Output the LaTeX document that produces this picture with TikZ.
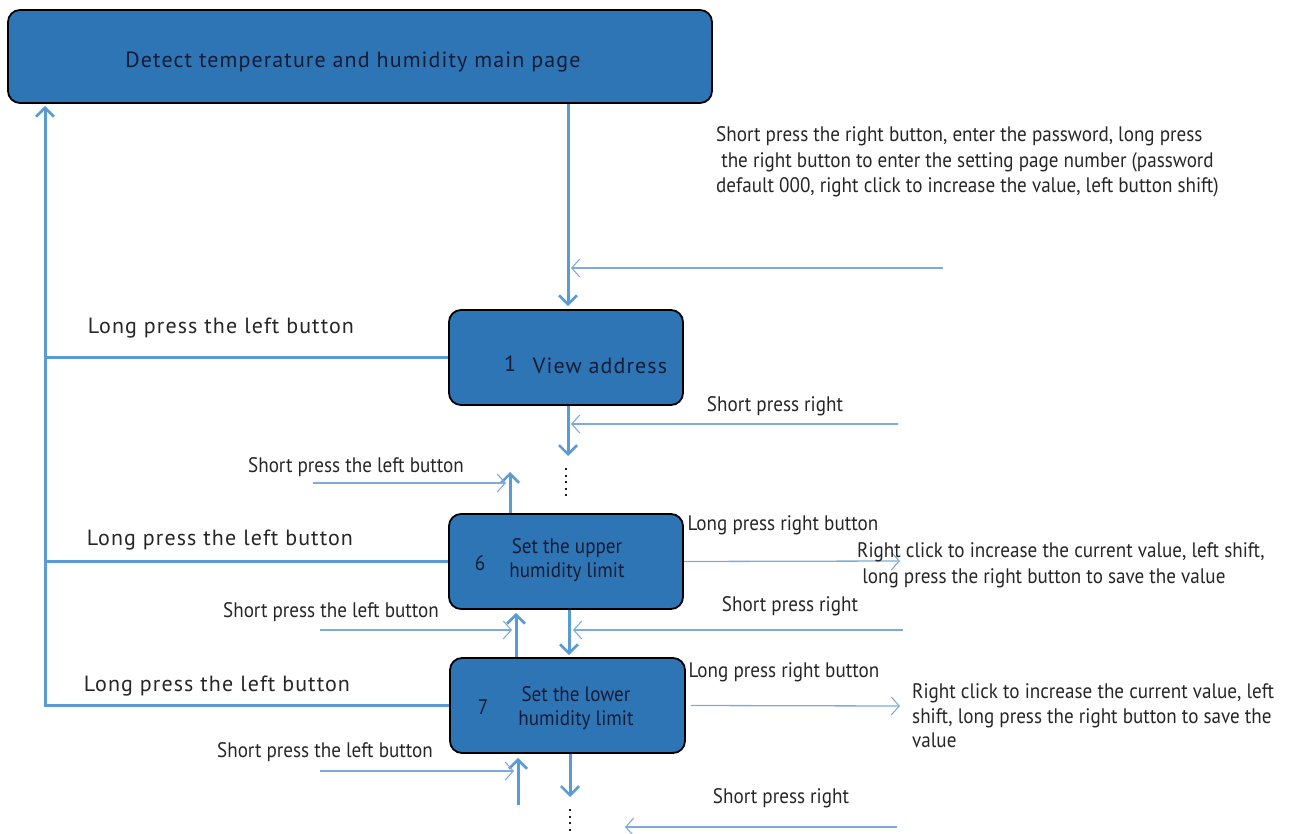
\documentclass[tikz,border=0pt]{standalone}
\usepackage{fontspec}
\setmainfont{PT Sans}
\newfontfamily\widefont[LetterSpace=5]{PT Sans}
\newfontfamily\condfont[FakeStretch=0.91]{PT Sans}
\usetikzlibrary{arrows.meta,calc}
\definecolor{boxblue}{RGB}{46,117,182}
\definecolor{linkblue}{RGB}{91,155,213}
\definecolor{thinblue}{RGB}{125,172,220}
\definecolor{ink}{RGB}{22,28,52}
\begin{document}
\begin{tikzpicture}[x=1pt,y=-1pt,
  box/.style={draw=black, line width=1.8pt, fill=boxblue, rounded corners=12pt,
    minimum width=234pt, minimum height=95pt, inner sep=0pt},
  flow/.style={draw=linkblue, line width=3pt,
    -{Straight Barb[length=9pt,width=18pt,line width=2.6pt]}},
  rail/.style={draw=linkblue, line width=3pt},
  hint/.style={draw=thinblue, line width=1.3pt,
    -{Straight Barb[length=8pt,width=18pt,line width=1.1pt]}},
  boxtext/.style={text=ink, font=\condfont\fontsize{21}{24}\selectfont, align=center, inner sep=0pt},
  widelabel/.style={text=black!85, font=\widefont\fontsize{22}{24}\selectfont, inner sep=0pt},
  condlabel/.style={text=black!85, font=\condfont\fontsize{21}{25}\selectfont, inner sep=0pt},
]
\useasboundingbox (0,0) rectangle (1290,834);

% screens
\node[box, minimum width=704pt, minimum height=93pt] (main) at (360,56.5) {};
\node[text=ink, font=\widefont\fontsize{22}{24}\selectfont, inner sep=0pt] (maintext) at (353,62)
  {Detect temperature and humidity main page};

\node[box] (box1) at (566,357.5) {};
\node[text=ink, font=\rmfamily\fontsize{22}{24}\selectfont, inner sep=0pt] (num1) at (510,364) {1};
\node[text=ink, font=\widefont\fontsize{22}{24}\selectfont, inner sep=0pt] (txt1) at (600,366) {View address};

\node[box] (box6) at (566,561.5) {};
\node[boxtext] (num6) at (480,563) {6};
\node[boxtext] (txt6) at (567,560) {Set the upper\\humidity limit};

\node[box, minimum width=235pt] (box7) at (567.5,705.5) {};
\node[boxtext] (num7) at (483,707) {7};
\node[boxtext] (txt7) at (576,708) {Set the lower\\humidity limit};

% return rail to the main page
\coordinate (railfoot) at (45,705.5);
\draw[flow, shorten >=2pt] (box7.west) -- (railfoot) -- (main.south -| railfoot);
\draw[rail] (box1.west) -- (box1.west -| railfoot);
\draw[rail] (box6.west) -- (box6.west -| railfoot);
\node[widelabel] (lp1) at (221,328) {Long press the left button};
\node[widelabel] (lp6) at (220,540) {Long press the left button};
\node[widelabel] (lp7) at (217,686) {Long press the left button};

% entering the setting pages
\draw[flow, shorten >=3pt] (main.south -| 568,0) -- (box1.north -| 568,0);
\node[condlabel, font=\condfont\fontsize{21}{25.5}\selectfont, align=left, anchor=west] (pwd) at (716,162)
  {Short press the right button, enter the password, long press\\
   \ the right button to enter the setting page number (password\\
   default 000, right click to increase the value, left button shift)};
\coordinate (h0) at (943,268);
\draw[hint] (h0) -- (571,268);

% page 1 -> further pages
\coordinate (d1) at (568,456);
\draw[flow] (box1.south -| d1) -- (d1);
\node[condlabel] (sr1) at (775,406) {Short press right};
\coordinate (h1) at (898,424);
\draw[hint] (h1) -- (571,424);
\draw[ink, line width=2pt, dash pattern=on 2pt off 4.6pt] (566,468) -- (566,498);

% page 6
\coordinate (u6) at (510,472);
\draw[flow] (box6.north -| u6) -- (u6);
\node[condlabel] (sl1) at (356,467) {Short press the left button};
\coordinate (h2) at (313,483);
\draw[hint] (h2) -- (506,483);
\node[condlabel] (lr6) at (783,525) {Long press right button};
\coordinate (h3) at (900,561);
\draw[hint] (box6.east) -- (h3);
\node[condlabel, font=\condfont\fontsize{21}{26}\selectfont, align=left, anchor=west] (rc6) at (857,565)
  {Right click to increase the current value, left shift,\\
   \ long press the right button to save the value};

% between pages 6 and 7
\draw[flow, shorten >=2pt] (box6.south -| 569,0) -- (box7.north -| 569,0);
\draw[flow, shorten >=3pt] (box7.north -| 516,0) -- (box6.south -| 516,0);
\node[condlabel] (sl2) at (331,612) {Short press the left button};
\coordinate (h4) at (320,630);
\draw[hint] (h4) -- (512,630);
\node[condlabel] (sr2) at (790,606) {Short press right};
\coordinate (h5) at (903,630);
\draw[hint] (h5) -- (573,630);

% page 7
\node[condlabel] (lr7) at (784,672) {Long press right button};
\coordinate (h6) at (900,706);
\draw[hint] ($(box7.east)+(5,0)$) -- (h6);
\node[condlabel, font=\condfont\fontsize{21}{24.5}\selectfont, align=left, anchor=west] (rc7) at (912,716)
  {Right click to increase the current value, left\\
   shift, long press the right button to save the\\
   value};
\coordinate (u7) at (518,805);
\draw[flow, shorten >=4pt] (u7) -- (box7.south -| u7);
\node[condlabel] (sl3) at (325,752) {Short press the left button};
\coordinate (h7) at (320,771);
\draw[hint] (h7) -- (514,771);
\coordinate (d7) at (570,797);
\draw[flow] (box7.south -| d7) -- (d7);
\draw[ink, line width=2pt, dash pattern=on 2pt off 4.6pt] (570,809) -- (570,834);
\node[condlabel] (sr3) at (781,798) {Short press right};
\coordinate (h8) at (897,827);
\draw[hint] (h8) -- (625,827);
\end{tikzpicture}
\end{document}
